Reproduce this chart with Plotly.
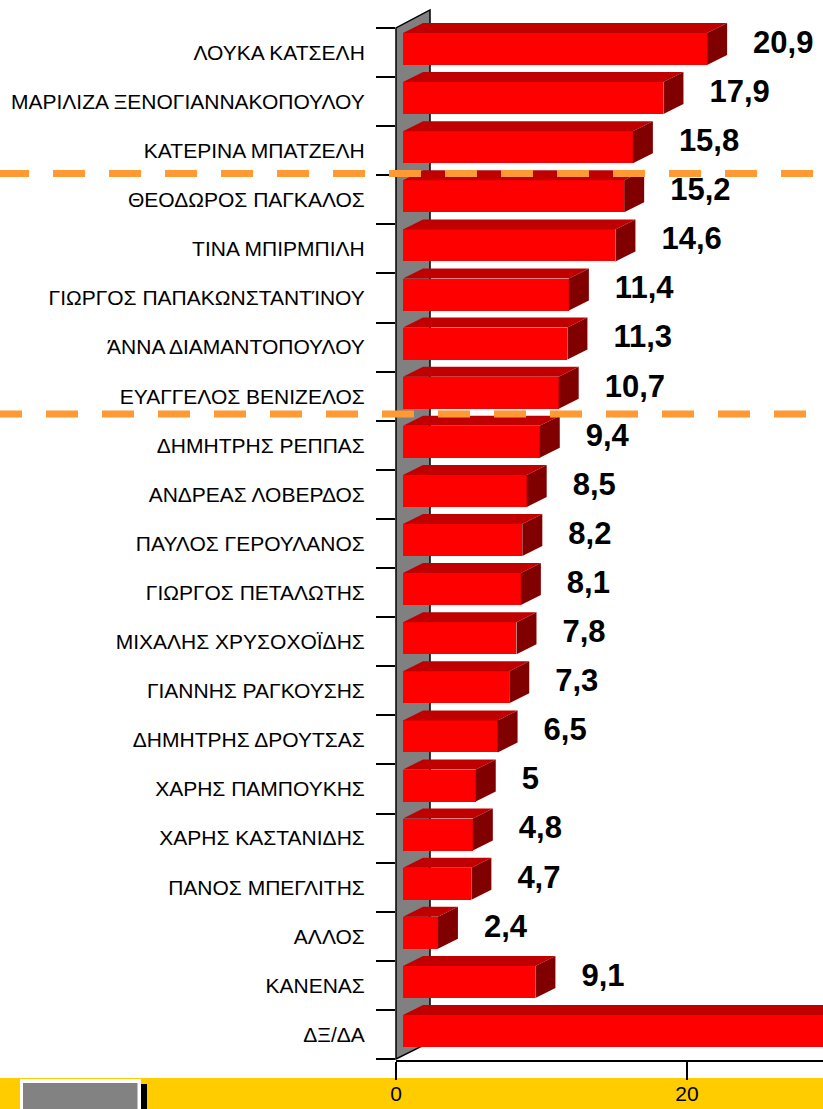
import plotly.graph_objects as go

# ---------------- data ----------------
categories = [
    "ΛΟΥΚΑ ΚΑΤΣΕΛΗ",
    "ΜΑΡΙΛΙΖΑ ΞΕΝΟΓΙΑΝΝΑΚΟΠΟΥΛΟΥ",
    "ΚΑΤΕΡΙΝΑ ΜΠΑΤΖΕΛΗ",
    "ΘΕΟΔΩΡΟΣ ΠΑΓΚΑΛΟΣ",
    "ΤΙΝΑ ΜΠΙΡΜΠΙΛΗ",
    "ΓΙΩΡΓΟΣ ΠΑΠΑΚΩΝΣΤΑΝΤΊΝΟΥ",
    "ΆΝΝΑ ΔΙΑΜΑΝΤΟΠΟΥΛΟΥ",
    "ΕΥΑΓΓΕΛΟΣ ΒΕΝΙΖΕΛΟΣ",
    "ΔΗΜΗΤΡΗΣ ΡΕΠΠΑΣ",
    "ΑΝΔΡΕΑΣ ΛΟΒΕΡΔΟΣ",
    "ΠΑΥΛΟΣ ΓΕΡΟΥΛΑΝΟΣ",
    "ΓΙΩΡΓΟΣ ΠΕΤΑΛΩΤΗΣ",
    "ΜΙΧΑΛΗΣ ΧΡΥΣΟΧΟΪΔΗΣ",
    "ΓΙΑΝΝΗΣ ΡΑΓΚΟΥΣΗΣ",
    "ΔΗΜΗΤΡΗΣ ΔΡΟΥΤΣΑΣ",
    "ΧΑΡΗΣ ΠΑΜΠΟΥΚΗΣ",
    "ΧΑΡΗΣ ΚΑΣΤΑΝΙΔΗΣ",
    "ΠΑΝΟΣ ΜΠΕΓΛΙΤΗΣ",
    "ΑΛΛΟΣ",
    "ΚΑΝΕΝΑΣ",
    "ΔΞ/ΔΑ",
]
values = [20.9, 17.9, 15.8, 15.2, 14.6, 11.4, 11.3, 10.7, 9.4, 8.5, 8.2,
          8.1, 7.8, 7.3, 6.5, 5.0, 4.8, 4.7, 2.4, 9.1, 35.0]
x_tick_values = [0, 20]
x_tick_labels = ["0", "20"]

# ---------------- geometry / style ----------------
W, H = 823, 1109
L_MARGIN, B_MARGIN = 396, 49
PLOT_W, PLOT_H = W - L_MARGIN, H - B_MARGIN
PX_X = 14.55          # pixels per value unit
PX_Y = 49.1           # pixels per category
Y0_PX = 52.5          # pixel centre of first category
BAR_SHIFT_PX = 7      # bar front face starts slightly right of axis zero

y_top = -Y0_PX / PX_Y
y_bot = (PLOT_H - Y0_PX) / PX_Y
x_max = PLOT_W / PX_X
x2_min = -BAR_SHIFT_PX / PX_X
x2_max = x2_min + x_max

BAR_W = 0.652
BAR_OFF = -0.397
DX = 20 / PX_X        # depth in value units
DY = 10 / PX_Y        # depth in category units
LABEL_GAP = DX + 26 / PX_X

FRONT = "#FF0000"
TOP = "#C00000"
SIDE = "#800000"
FONT = "Liberation Sans, Arial, sans-serif"

ypos = list(range(len(categories)))
value_text = [f"{v:g}".replace(".", ",") if v + LABEL_GAP + 4 < x2_max else ""
              for v in values]

fig = go.Figure()

# empty trace so that the visible value axis (x) owns a subplot
fig.add_trace(go.Scatter(x=[None], y=[None], xaxis="x", yaxis="y",
                         mode="markers", hoverinfo="skip", showlegend=False))

fig.add_trace(go.Bar(
    x=values, y=ypos, orientation="h", xaxis="x2", yaxis="y",
    width=BAR_W, offset=BAR_OFF,
    marker=dict(color=FRONT, line=dict(width=0)),
    hoverinfo="skip", showlegend=False,
))

fig.add_trace(go.Scatter(
    x=[v + LABEL_GAP for v in values],
    y=[i - 0.15 for i in ypos],
    xaxis="x2", yaxis="y", mode="text", text=value_text,
    textposition="middle right",
    textfont=dict(family=FONT, size=31, color="black", weight="bold"),
    hoverinfo="skip", showlegend=False,
))

shapes = []

# grey side wall
wd = 34 / PLOT_W
shapes.append(dict(
    type="path", xref="paper", yref="y", layer="below",
    path=(f"M 0,{y_bot - 0.02} L 0,-0.5 L {wd},{-0.5 - 18 / PX_Y} "
          f"L {wd},{20.5 - 17 / PX_Y} Z"),
    fillcolor="#808080", line=dict(color="black", width=1.5),
))

# 3D faces of the bars
for i, v in zip(ypos, values):
    yt = i + BAR_OFF
    yb = i + BAR_OFF + BAR_W
    shapes.append(dict(
        type="path", xref="x2", yref="y", layer="above",
        path=f"M 0,{yt} L {v},{yt} L {v + DX},{yt - DY} L {DX},{yt - DY} Z",
        fillcolor=TOP, line=dict(width=0),
    ))
    shapes.append(dict(
        type="path", xref="x2", yref="y", layer="above",
        path=f"M {v},{yt} L {v + DX},{yt - DY} L {v + DX},{yb - DY} L {v},{yb} Z",
        fillcolor=SIDE, line=dict(width=0),
    ))

# orange dashed separators
for ypx, start_px in [(173.5, -3), (414, -10)]:
    yv = (ypx - Y0_PX) / PX_Y
    shapes.append(dict(
        type="line", xref="paper", yref="y", layer="above",
        x0=(start_px - L_MARGIN) / PLOT_W, x1=1, y0=yv, y1=yv,
        line=dict(color="#FF9933", width=7, dash="32px,24px"),
    ))

def px_x(p):
    return (p - L_MARGIN) / PLOT_W

def px_y(p):
    return (PLOT_H - p) / PLOT_H

# yellow bottom band
shapes.append(dict(type="rect", xref="paper", yref="paper", layer="below",
                   x0=px_x(-2), x1=px_x(W + 2), y0=px_y(1078), y1=px_y(H + 2),
                   fillcolor="#FFCC00", line=dict(width=0)))
shapes.append(dict(type="rect", xref="paper", yref="paper", layer="below",
                   x0=px_x(20), x1=px_x(141), y0=px_y(1079), y1=px_y(H + 2),
                   fillcolor="white", line=dict(width=0)))
shapes.append(dict(type="rect", xref="paper", yref="paper", layer="below",
                   x0=px_x(23), x1=px_x(137.5), y0=px_y(1083), y1=px_y(H + 2),
                   fillcolor="#828282", line=dict(width=0)))
shapes.append(dict(type="rect", xref="paper", yref="paper", layer="below",
                   x0=px_x(141), x1=px_x(147), y0=px_y(1084), y1=px_y(H + 2),
                   fillcolor="black", line=dict(width=0)))

fig.update_layout(
    width=W, height=H,
    margin=dict(l=L_MARGIN, r=0, t=0, b=B_MARGIN, autoexpand=False),
    paper_bgcolor="white", plot_bgcolor="white",
    showlegend=False,
    bargap=0,
    shapes=shapes,
    xaxis=dict(
        range=[0, x_max], tickmode="array", tickvals=x_tick_values,
        ticktext=x_tick_labels, ticks="outside", ticklen=18, tickwidth=1.5,
        tickcolor="black", showline=True, linecolor="black", linewidth=1.5,
        showgrid=False, zeroline=False, ticklabelstandoff=-4,
        tickfont=dict(family=FONT, size=21, color="black"),
    ),
    xaxis2=dict(
        range=[x2_min, x2_max], overlaying="x", anchor="y", visible=False,
        showgrid=False, zeroline=False,
    ),
    yaxis=dict(
        range=[y_bot, y_top], tickmode="array", tickvals=ypos,
        ticktext=categories, ticks="outside", ticklen=26,
        tickcolor="rgba(0,0,0,0)", showline=False, showgrid=False,
        zeroline=False, automargin=False,
        tickfont=dict(family=FONT, size=21, color="black"),
        minor=dict(tickmode="array", tickvals=[k - 0.5 for k in range(len(categories) + 1)],
                   ticks="outside", ticklen=19, tickwidth=1.5, tickcolor="black",
                   showgrid=False),
    ),
)

fig.write_html(
    "out.html",
    config={"displayModeBar": False},
    post_script=("document.body.style.margin='0px';"
                 "document.body.style.padding='0px';"
                 "document.body.style.overflow='hidden';"),
)
